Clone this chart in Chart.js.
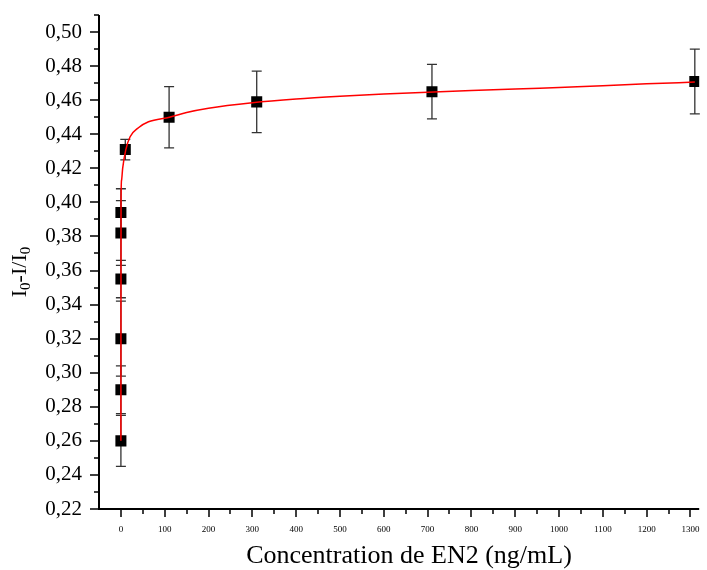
<!DOCTYPE html>
<html><head><meta charset="utf-8">
<script src="https://cdn.jsdelivr.net/npm/chart.js@4.4.0/dist/chart.umd.min.js"></script>
<style>html,body{margin:0;padding:0;background:#fff;} #wrap{width:707px;height:570px;position:relative;}</style>
</head><body><div id="wrap"><canvas id="c" width="707" height="570"></canvas></div>
<script>
// Measured data (concentration in ng/mL, response I0-I/I0, error)
const concentrations = [0, 0, 0, 0, 0, 0, 10, 110, 310, 710, 1310];
const responses = [0.260, 0.290, 0.320, 0.355, 0.382, 0.394, 0.431, 0.450, 0.459, 0.465, 0.471];
const errors = [0.015, 0.014, 0.022, 0.011, 0.019, 0.014, 0.006, 0.018, 0.018, 0.016, 0.019];
// Fitted curve
const fitX = [0, 0.3, 1.5, 4, 11, 21, 40, 63, 111, 150, 200, 300, 400, 500, 600, 700, 800, 900, 1000, 1100, 1200, 1310];
const fitY = [0.26, 0.40, 0.413, 0.420, 0.4307, 0.4385, 0.4438, 0.4473, 0.4500, 0.4528, 0.4553, 0.4585, 0.4607, 0.4623, 0.4636, 0.4647, 0.4657, 0.4665, 0.4675, 0.4684, 0.4696, 0.4706];
// Axis ticks
const xTickLabels = [0, 100, 200, 300, 400, 500, 600, 700, 800, 900, 1000, 1100, 1200, 1300];
const xMinorTicks = [50, 150, 250, 350, 450, 550, 650, 750, 850, 950, 1050, 1150, 1250];
const yTickLabels = [0.22, 0.24, 0.26, 0.28, 0.30, 0.32, 0.34, 0.36, 0.38, 0.40, 0.42, 0.44, 0.46, 0.48, 0.50];
const yMinorTicks = [0.23, 0.25, 0.27, 0.29, 0.31, 0.33, 0.35, 0.37, 0.39, 0.41, 0.43, 0.45, 0.47, 0.49, 0.51];
const xTitle = 'Concentration de EN2 (ng/mL)';

const SERIF = '"Liberation Serif", "DejaVu Serif", serif';

const axesPlugin = {
  id: 'axesPlugin',
  beforeDatasetsDraw(chart) {
    const ctx = chart.ctx, xs = chart.scales.x, ys = chart.scales.y;
    ctx.save();
    ctx.strokeStyle = '#333';
    ctx.lineWidth = 1.3;
    for (let i = 0; i < responses.length; i++) {
      const px = xs.getPixelForValue(concentrations[i]);
      const pt = ys.getPixelForValue(responses[i] + errors[i]);
      const pb = ys.getPixelForValue(responses[i] - errors[i]);
      ctx.beginPath();
      ctx.moveTo(px, pt); ctx.lineTo(px, pb);
      ctx.moveTo(px - 5, pt); ctx.lineTo(px + 5, pt);
      ctx.moveTo(px - 5, pb); ctx.lineTo(px + 5, pb);
      ctx.stroke();
    }
    ctx.restore();
  },
  afterDraw(chart) {
    const ctx = chart.ctx, xs = chart.scales.x, ys = chart.scales.y, a = chart.chartArea;
    ctx.save();
    ctx.strokeStyle = '#000';
    ctx.lineWidth = 2;
    ctx.beginPath();
    ctx.moveTo(a.left, a.top); ctx.lineTo(a.left, a.bottom + 1);
    ctx.moveTo(a.left - 1, a.bottom); ctx.lineTo(a.right, a.bottom);
    ctx.stroke();
    ctx.lineWidth = 1.5;
    ctx.beginPath();
    yTickLabels.forEach(v => { const p = Math.round(ys.getPixelForValue(v)); ctx.moveTo(a.left - 9, p); ctx.lineTo(a.left, p); });
    yMinorTicks.forEach(v => { const p = Math.round(ys.getPixelForValue(v)); ctx.moveTo(a.left - 5, p); ctx.lineTo(a.left, p); });
    xTickLabels.forEach(v => { const p = Math.round(xs.getPixelForValue(v)); ctx.moveTo(p, a.bottom); ctx.lineTo(p, a.bottom + 8); });
    xMinorTicks.forEach(v => { const p = Math.round(xs.getPixelForValue(v)); ctx.moveTo(p, a.bottom); ctx.lineTo(p, a.bottom + 5); });
    ctx.stroke();
    // x title
    ctx.fillStyle = '#000';
    ctx.font = '26px ' + SERIF;
    ctx.textAlign = 'center';
    ctx.textBaseline = 'middle';
    ctx.fillText(xTitle, 409, 556);
    // y title with subscripts
    ctx.translate(20, 272);
    ctx.rotate(-Math.PI / 2);
    const big = '22px ' + SERIF, small = '15px ' + SERIF;
    const parts = [['I', big, 0], ['0', small, 6], ['-I/I', big, 0], ['0', small, 6]];
    let total = 0;
    parts.forEach(p => { ctx.font = p[1]; total += ctx.measureText(p[0]).width; });
    let x = -total / 2;
    ctx.textAlign = 'left';
    ctx.textBaseline = 'middle';
    parts.forEach(p => { ctx.font = p[1]; ctx.fillText(p[0], x, p[2]); x += ctx.measureText(p[0]).width; });
    ctx.restore();
  }
};

new Chart(document.getElementById('c'), {
  type: 'scatter',
  data: {
    datasets: [
      {
        label: 'fit',
        type: 'line',
        data: fitX.map((x, i) => ({ x: x, y: fitY[i] })),
        borderColor: '#ff0000',
        borderWidth: 1.5,
        pointRadius: 0,
        cubicInterpolationMode: 'monotone',
        fill: false,
        order: 0
      },
      {
        label: 'data',
        data: concentrations.map((x, i) => ({ x: x, y: responses[i] })),
        pointStyle: 'rect',
        pointRadius: 7.8,
        pointHoverRadius: 7.8,
        backgroundColor: '#000',
        borderWidth: 0,
        order: 1
      }
    ]
  },
  options: {
    responsive: false,
    animation: false,
    events: [],
    layout: { padding: { top: 15, right: 7, left: 0, bottom: 0 } },
    plugins: { legend: { display: false }, tooltip: { enabled: false } },
    scales: {
      x: {
        type: 'linear', min: -50, max: 1320,
        grid: { display: false, drawTicks: false },
        border: { display: false },
        afterBuildTicks: s => { s.ticks = xTickLabels.map(v => ({ value: v })); },
        afterFit: s => { s.height = 61; s.paddingLeft = 0; s.paddingRight = 0; },
        ticks: { padding: 15, color: '#000', font: { family: SERIF, size: 9 }, maxRotation: 0, autoSkip: false, callback: v => String(v) }
      },
      y: {
        type: 'linear', min: 0.22, max: 0.51,
        grid: { display: false, drawTicks: false },
        border: { display: false },
        afterBuildTicks: s => { s.ticks = yTickLabels.map(v => ({ value: v })); },
        afterFit: s => { s.width = 99; s.paddingTop = 0; s.paddingBottom = 0; },
        ticks: { padding: 17, color: '#000', font: { family: SERIF, size: 21 }, autoSkip: false, callback: v => v.toFixed(2).replace('.', ',') }
      }
    }
  },
  plugins: [axesPlugin]
});
</script></body></html>
